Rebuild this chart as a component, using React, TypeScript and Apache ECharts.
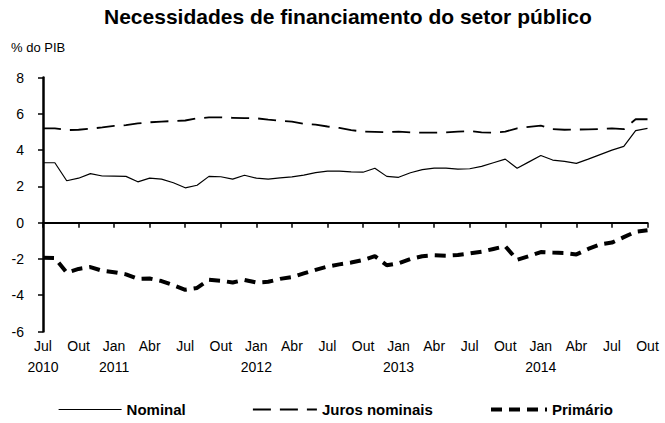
import React, { useEffect, useRef } from "react";
import * as echarts from "echarts";

const categories = [
  "Jul 2010", "Ago 2010", "Set 2010", "Out 2010", "Nov 2010", "Dez 2010",
  "Jan 2011", "Fev 2011", "Mar 2011", "Abr 2011", "Mai 2011", "Jun 2011",
  "Jul 2011", "Ago 2011", "Set 2011", "Out 2011", "Nov 2011", "Dez 2011",
  "Jan 2012", "Fev 2012", "Mar 2012", "Abr 2012", "Mai 2012", "Jun 2012",
  "Jul 2012", "Ago 2012", "Set 2012", "Out 2012", "Nov 2012", "Dez 2012",
  "Jan 2013", "Fev 2013", "Mar 2013", "Abr 2013", "Mai 2013", "Jun 2013",
  "Jul 2013", "Ago 2013", "Set 2013", "Out 2013", "Nov 2013", "Dez 2013",
  "Jan 2014", "Fev 2014", "Mar 2014", "Abr 2014", "Mai 2014", "Jun 2014",
  "Jul 2014", "Ago 2014", "Set 2014", "Out 2014",
];

const nominal = [
  3.3, 3.3, 2.31, 2.45, 2.7, 2.57, 2.56, 2.55, 2.25, 2.45, 2.4, 2.2,
  1.92, 2.06, 2.55, 2.53, 2.4, 2.61, 2.45, 2.4, 2.47, 2.52, 2.62, 2.76,
  2.84, 2.84, 2.8, 2.78, 3.0, 2.55, 2.5, 2.75, 2.92, 3.0, 3.0, 2.95,
  2.97, 3.1, 3.3, 3.5, 3.0, 3.35, 3.7, 3.45, 3.38, 3.27, 3.5, 3.75,
  4.0, 4.2, 5.07, 5.2,
];

const juros = [
  5.2, 5.2, 5.1, 5.12, 5.18, 5.25, 5.33, 5.37, 5.47, 5.53, 5.57, 5.6,
  5.63, 5.75, 5.8, 5.8, 5.78, 5.76, 5.75, 5.68, 5.62, 5.57, 5.45, 5.4,
  5.3, 5.22, 5.1, 5.02, 5.0, 4.98, 5.02, 4.97, 4.96, 4.96, 4.97, 5.02,
  5.05, 4.98, 4.96, 5.02, 5.2, 5.28, 5.35, 5.15, 5.12, 5.13, 5.14, 5.16,
  5.2, 5.15, 5.7, 5.7,
];

const primario = [
  -1.93, -1.95, -2.76, -2.55, -2.45, -2.65, -2.73, -2.85, -3.1, -3.08, -3.22, -3.45,
  -3.7, -3.6, -3.15, -3.2, -3.3, -3.16, -3.3, -3.26, -3.1, -3.0, -2.8, -2.6,
  -2.42, -2.3, -2.2, -2.06, -1.85, -2.35, -2.24, -2.0, -1.85, -1.8, -1.82, -1.78,
  -1.7, -1.6, -1.45, -1.3, -2.05, -1.85, -1.62, -1.65, -1.67, -1.75, -1.45, -1.2,
  -1.1, -0.8, -0.5, -0.42,
];

const seriesNames = ["Nominal", "Juros nominais", "Primário"];
const titleText = "Necessidades de financiamento do setor público";
const unitText = "% do PIB";

const FONT = "'Liberation Sans', Arial, sans-serif";

export default function App() {
  const ref = useRef<HTMLDivElement>(null);

  useEffect(() => {
    if (!ref.current) return;
    const chart = echarts.init(ref.current, undefined, { renderer: "svg" });
    const styles = [
      { width: 1.2, type: "solid" as any },
      { width: 1.8, type: [18, 9] as any },
      { width: 4, type: [11, 7] as any },
    ];
    const legendLayout = [
      { left: 58, itemWidth: 63 },
      { left: 252, itemWidth: 64 },
      { left: 489, itemWidth: 56 },
    ];
    const datasets = [nominal, juros, primario];
    chart.setOption({
      animation: false,
      backgroundColor: "#fff",
      textStyle: { fontFamily: FONT },
      title: [
        {
          text: titleText,
          left: 104,
          top: 6,
          padding: 0,
          textStyle: { fontFamily: FONT, fontSize: 21, fontWeight: "bold", color: "#000" },
        },
        {
          text: unitText,
          left: 11,
          top: 41,
          padding: 0,
          textStyle: { fontFamily: FONT, fontSize: 13, fontWeight: "normal", color: "#000" },
        },
      ],
      legend: seriesNames.map((n, i) => ({
        data: [
          {
            name: n,
            lineStyle: { width: styles[i].width, type: styles[i].type, color: "#000" },
          },
        ],
        left: legendLayout[i].left,
        bottom: 6,
        padding: 0,
        itemWidth: legendLayout[i].itemWidth,
        itemHeight: 10,
        itemStyle: { opacity: 0 },
        textStyle: { fontFamily: FONT, fontSize: 15, fontWeight: "bold", color: "#000" },
      })),
      grid: { left: 43, right: 17.5, top: 77.5, bottom: 91.5, containLabel: false },
      xAxis: {
        type: "category",
        data: categories,
        boundaryGap: false,
        axisLine: { lineStyle: { color: "#000", width: 2 } },
        axisTick: { interval: 2, length: 5, lineStyle: { color: "#000", width: 1.5 } },
        axisLabel: {
          interval: 2,
          margin: 4,
          lineHeight: 21,
          fontSize: 14,
          color: "#000",
          fontFamily: FONT,
          formatter: (value: string, index: number) => {
            const [m, y] = value.split(" ");
            return index === 0 || m === "Jan" ? m + "\n" + y : m;
          },
        },
        splitLine: { show: false },
      },
      yAxis: {
        type: "value",
        min: -6,
        max: 8,
        interval: 2,
        axisLine: { show: true, lineStyle: { color: "#000", width: 2.5 } },
        axisTick: { show: true, length: 5, lineStyle: { color: "#000", width: 1.5 } },
        axisLabel: { margin: 19, fontSize: 14, color: "#000", fontFamily: FONT },
        splitLine: { show: false },
      },
      series: seriesNames.map((n, i) => ({
        name: n,
        type: "line",
        data: datasets[i],
        symbol: "none",
        lineStyle: { color: "#000", width: styles[i].width, type: styles[i].type, cap: "butt" },
        itemStyle: { color: "#000" },
      })),
    });
    return () => chart.dispose();
  }, []);

  return <div ref={ref} style={{ width: 665, height: 423, position: "absolute", left: 0, top: 0 }} />;
}
